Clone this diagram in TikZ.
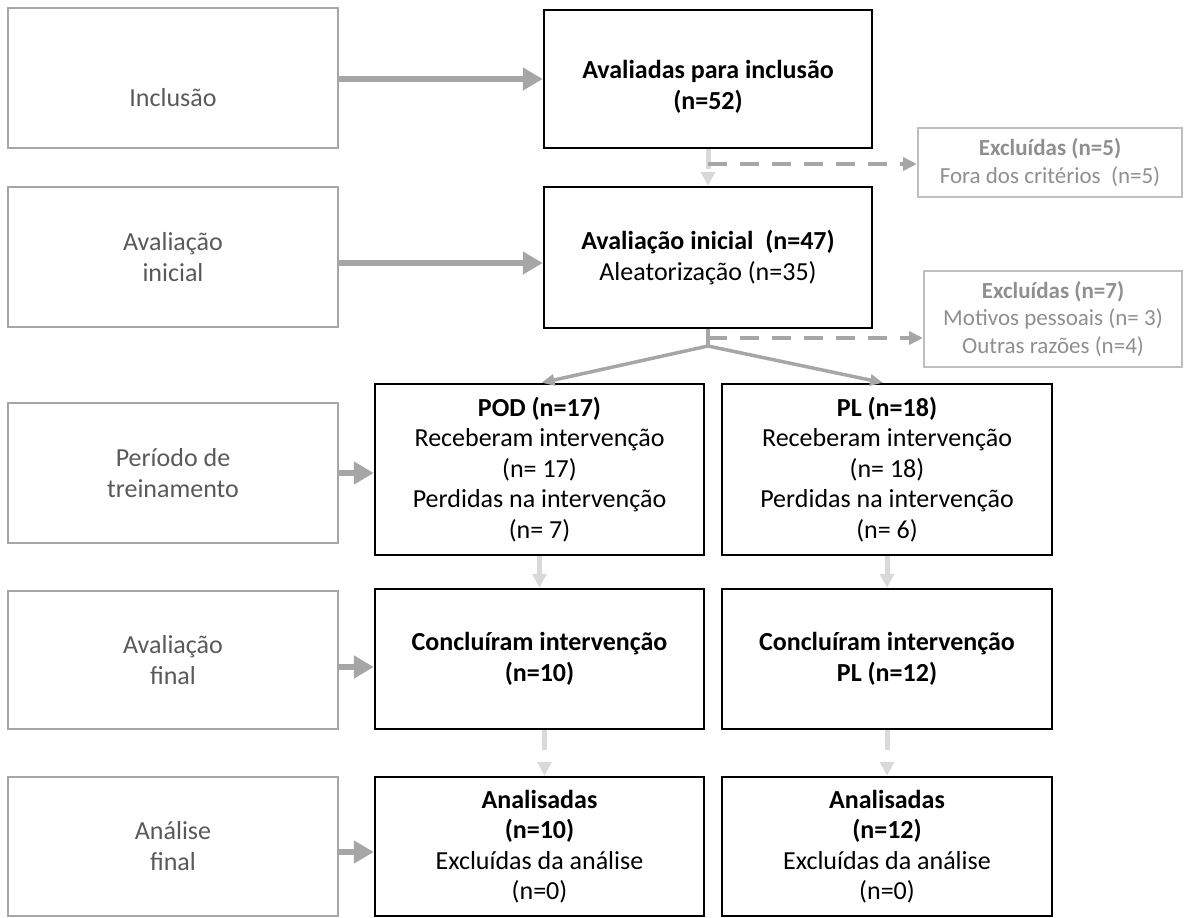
\documentclass[tikz,border=0pt]{standalone}
\usepackage{fontspec}
\setmainfont{Carlito}
\usetikzlibrary{arrows.meta}

\definecolor{framegray}{HTML}{A6A6A6}
\definecolor{lightarrow}{HTML}{D9D9D9}
\definecolor{labelgray}{HTML}{595959}
\definecolor{exclframe}{HTML}{BFBFBF}
\definecolor{excltext}{HTML}{8F8F8F}

\begin{document}
\begin{tikzpicture}[x=1pt,y=-1pt,
  stagebox/.style={draw=framegray, line width=1.5pt, minimum width=330pt, inner sep=0pt,
    text=labelgray, align=center, font=\fontsize{26}{31}\selectfont},
  stagetext/.style={inner sep=0pt, text=labelgray, align=center, font=\fontsize{26}{31}\selectfont},
  flowbox/.style={draw=black, line width=2.5pt, inner sep=0pt, align=center,
    font=\fontsize{26}{30.5}\selectfont},
  flowtext/.style={inner sep=0pt, align=center, font=\fontsize{26}{30.5}\selectfont},
  exclbox/.style={draw=exclframe, line width=2pt, inner sep=0pt, align=center,
    text=excltext, font=\fontsize{23}{27.5}\selectfont},
  thickarrow/.style={draw=framegray, line width=6.5pt,
    -{Triangle[length=20pt,width=22pt]}},
  lightarr/.style={draw=lightarrow, line width=5pt,
    -{Triangle[length=14pt,width=14pt]}},
  dasharrow/.style={draw=framegray, line width=4pt, dash pattern=on 19pt off 13pt,
    -{Triangle[length=14pt,width=13pt]}},
  forkline/.style={draw=framegray, line width=3.5pt},
  forkarrow/.style={draw=framegray, line width=3.5pt,
    -{Triangle[length=13pt,width=11pt]}}
]
\useasboundingbox (0,0) rectangle (1184,918);

% stage labels on the left
\node[stagebox, minimum height=140pt] (L1) at (173,78) {};
\node[stagetext, anchor=base] (L1text) at (173,106) {Inclusão};
\node[stagebox, minimum height=140pt] (L2) at (173,257) {Avaliação\\inicial};
\node[stagebox, minimum height=140pt] (L3) at (173,473) {Período de\\treinamento};
\node[stagebox, minimum height=138pt] (L4) at (173,660) {Avaliação\\final};
\node[stagebox, minimum height=139pt] (L5) at (173,846.5) {Análise\\final};

% main flow
\node[flowbox, minimum width=328pt, minimum height=138pt] (M1) at (708,79) {};
\node[flowtext] (M1text) at (708,87) {\textbf{Avaliadas para inclusão}\\\textbf{(n=52)}};
\node[flowbox, minimum width=328pt, minimum height=141pt] (M2) at (708,257.5)
  {\textbf{Avaliação inicial\ \ (n=47)}\\Aleatorização (n=35)};

\node[flowbox, minimum width=329pt, minimum height=171pt] (POD) at (539.5,469.5)
  {\textbf{POD (n=17)}\\Receberam intervenção\\(n= 17)\\Perdidas na intervenção\\(n= 7)};
\node[flowbox, minimum width=330pt, minimum height=171pt] (PL) at (887,469.5)
  {\textbf{PL (n=18)}\\Receberam intervenção\\(n= 18)\\Perdidas na intervenção\\(n= 6)};

\node[flowbox, minimum width=329pt, minimum height=140pt] (CPOD) at (539.5,659)
  {\textbf{Concluíram intervenção}\\\textbf{(n=10)}};
\node[flowbox, minimum width=330pt, minimum height=140pt] (CPL) at (887,659)
  {\textbf{Concluíram intervenção}\\\textbf{PL (n=12)}};

\node[flowbox, minimum width=329pt, minimum height=139pt] (APOD) at (539.5,846.5)
  {\textbf{Analisadas}\\\textbf{(n=10)}\\Excluídas da análise\\(n=0)};
\node[flowbox, minimum width=330pt, minimum height=139pt] (APL) at (887,846.5)
  {\textbf{Analisadas}\\\textbf{(n=12)}\\Excluídas da análise\\(n=0)};

% exclusions
\node[exclbox, minimum width=264pt, minimum height=69pt] (EX1) at (1050,162.5)
  {\textbf{Excluídas (n=5)}\\Fora dos critérios\ \ (n=5)};
\node[exclbox, minimum width=258pt, minimum height=96pt] (EX2) at (1053,319)
  {\textbf{Excluídas (n=7)}\\Motivos pessoais (n= 3)\\Outras razões (n=4)};

% stage arrows
\draw[thickarrow] ([yshift=-1pt]L1.east) -- ([yshift=-1pt]L1.east -| M1.west);
\draw[thickarrow] ([yshift=-6pt]L2.east) -- ([yshift=-6pt]L2.east -| M2.west);
\draw[thickarrow] (L3.east) -- (L3.east -| POD.west);
\draw[thickarrow] ([yshift=-7pt]L4.east) -- ([yshift=-7pt]L4.east -| CPOD.west);
\draw[thickarrow] ([yshift=-5.5pt]L5.east) -- ([yshift=-5.5pt]L5.east -| APOD.west);

% flow arrows
\draw[lightarr, dash pattern=on 20pt off 60pt] (M1.south) -- (M2.north);
\coordinate (drop1) at (708,164);
\draw[dasharrow] (drop1) -- (drop1 -| EX1.west);

\coordinate (fork) at (708,346);
\coordinate (drop2) at (708,338);
\draw[forkline] (M2.south) -- (fork);
\draw[dasharrow] (drop2) -- (drop2 -| EX2.west);
\draw[forkarrow] (fork) -- ([xshift=2pt]POD.north);
\draw[forkarrow] (fork) -- ([xshift=-4pt]PL.north);

\draw[lightarr] (POD.south) -- (CPOD.north);
\draw[lightarr] (PL.south) -- (CPL.north);
\draw[lightarr, dash pattern=on 20pt off 60pt] ([xshift=5pt]CPOD.south) -- ([xshift=5pt]APOD.north);
\draw[lightarr, dash pattern=on 20pt off 60pt] (CPL.south) -- (APL.north);
\end{tikzpicture}
\end{document}
